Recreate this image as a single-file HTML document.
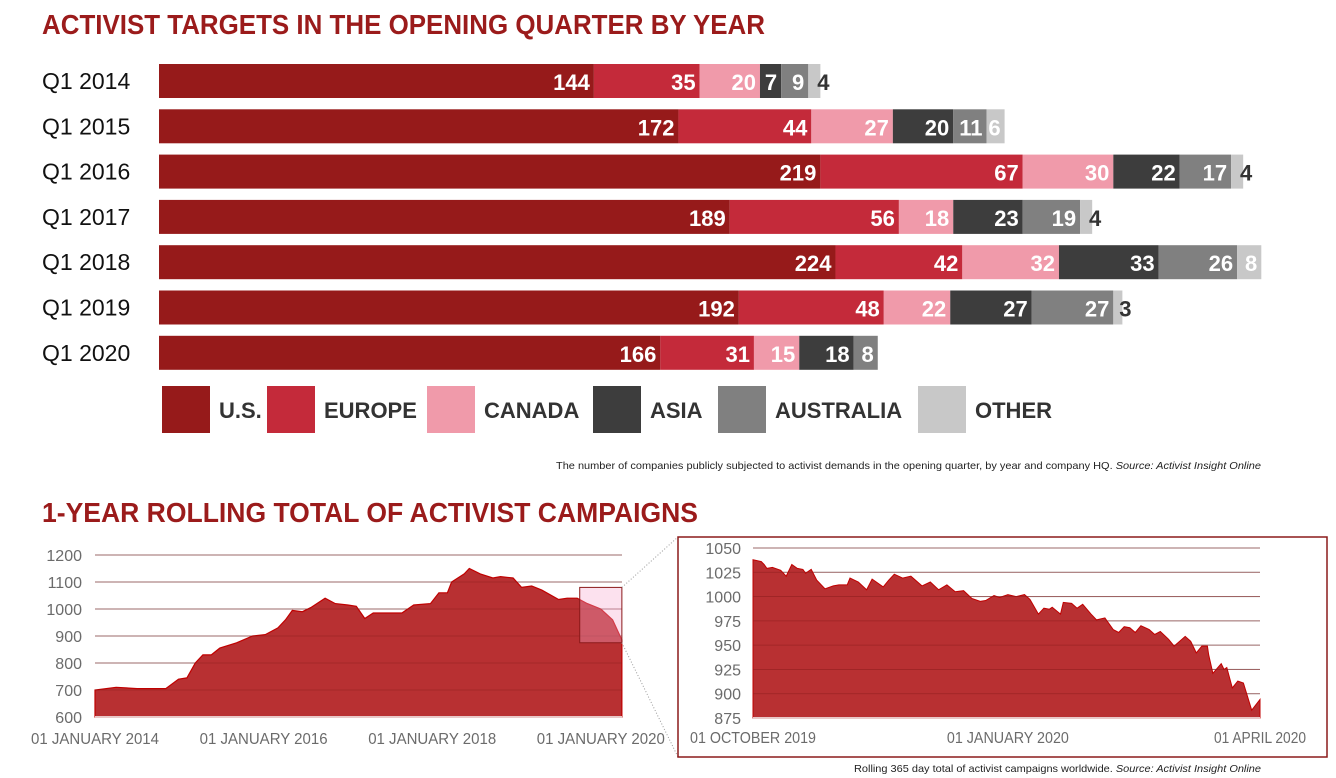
<!DOCTYPE html>
<html><head><meta charset="utf-8"><style>
html,body{margin:0;padding:0;background:#fff;}
svg{display:block;font-family:"Liberation Sans",sans-serif;}
</style></head><body>
<svg id="root" width="1336" height="778" viewBox="0 0 1336 778">
<text x="42" y="34" font-size="28" font-weight="bold" fill="#9b1b1b" textLength="723" lengthAdjust="spacingAndGlyphs">ACTIVIST TARGETS IN THE OPENING QUARTER BY YEAR</text>
<g id="bars"></g>
<g id="legend"></g>
<text x="556" y="469" font-size="10.5" fill="#222" textLength="705" lengthAdjust="spacingAndGlyphs">The number of companies publicly subjected to activist demands in the opening quarter, by year and company HQ. <tspan font-style="italic">Source: Activist Insight Online</tspan></text>
<text x="42" y="522" font-size="28" font-weight="bold" fill="#9b1b1b" textLength="656" lengthAdjust="spacingAndGlyphs">1-YEAR ROLLING TOTAL OF ACTIVIST CAMPAIGNS</text>
<g id="left"></g>
<rect x="678" y="537" width="649" height="220" fill="none" stroke="#8b1a1a" stroke-width="1.5"/>
<g id="inset"></g>
<text x="854" y="772" font-size="10.5" fill="#222" textLength="407" lengthAdjust="spacingAndGlyphs">Rolling 365 day total of activist campaigns worldwide. <tspan font-style="italic">Source: Activist Insight Online</tspan></text>
</svg>
<script>
const NS="http://www.w3.org/2000/svg";
const years=["Q1 2014","Q1 2015","Q1 2016","Q1 2017","Q1 2018","Q1 2019","Q1 2020"];
const regions=["U.S.","EUROPE","CANADA","ASIA","AUSTRALIA","OTHER"];
const usVals=[144,172,219,189,224,192,166];
const europeVals=[35,44,67,56,42,48,31];
const canadaVals=[20,27,30,18,32,22,15];
const asiaVals=[7,20,22,23,33,27,18];
const australiaVals=[9,11,17,19,26,27,8];
const otherVals=[4,6,4,4,8,3,0];
const leftDates=[2014.0,2014.25,2014.5,2014.75,2014.84,2014.99,2015.09,2015.19,2015.28,2015.38,2015.48,2015.68,2015.87,2016.02,2016.17,2016.26,2016.34,2016.46,2016.56,2016.73,2016.85,2017.0,2017.1,2017.2,2017.3,2017.44,2017.64,2017.78,2017.98,2018.08,2018.18,2018.23,2018.38,2018.44,2018.57,2018.72,2018.81,2018.96,2019.06,2019.18,2019.3,2019.5,2019.6,2019.72,2019.84,2020.0,2020.14,2020.25];
const leftVals=[700,710,705,705,705,740,745,800,830,830,855,875,900,905,930,960,995,990,1005,1040,1020,1015,1010,965,985,985,985,1015,1020,1060,1060,1100,1130,1150,1130,1115,1120,1115,1080,1085,1070,1035,1040,1040,1020,1000,960,885];
const leftTicks=[600,700,800,900,1000,1100,1200];
const leftXLabels=["01 JANUARY 2014","01 JANUARY 2016","01 JANUARY 2018","01 JANUARY 2020"];
const leftXYears=[2014,2016,2018,2020];
const insetDays=[0,3,4,5,7,10,12,14,16,18,19,21,23,26,29,31,34,35,38,41,43,47,49,51,54,57,61,64,67,70,73,76,79,82,84,87,89,92,95,98,100,103,105,107,108,111,112,115,117,119,122,124,127,130,132,134,136,138,140,143,145,147,150,152,154,156,158,160,162,164,164.5,166,169,170,171,173,175,177,180,183];
const insetVals=[1038,1036,1033,1029,1030,1027,1021,1033,1029,1028,1024,1028,1017,1008,1011,1012,1012,1019,1015,1007,1018,1010,1017,1023,1019,1021,1011,1015,1007,1012,1005,1006,998,995,996,1001,999,1002,1000,1002,997,982,988,987,989,982,994,993,988,992,982,976,978,966,963,969,968,963,970,966,961,964,956,949,954,959,954,942,949,949,940,921,931,925,927,906,913,911,883,894];
const insetTicks=[875,900,925,950,975,1000,1025,1050];
const insetXLabels=["01 OCTOBER 2019","01 JANUARY 2020","01 APRIL 2020"];
const insetXDays=[0,92,183];

function el(tag,attrs,parent){const e=document.createElementNS(NS,tag);for(const k in attrs)e.setAttribute(k,attrs[k]);parent.appendChild(e);return e;}
const colors=["#961a1a","#c42a3a","#f09aaa","#3d3d3d","#808080","#c8c8c8"];
const series=[usVals,europeVals,canadaVals,asiaVals,australiaVals,otherVals];
const bx=v=>159+v*3.02;
const rowY=i=>64+i*45.3;
const bars=document.getElementById('bars');
years.forEach((yr,i)=>{
  const t=el('text',{x:42,y:rowY(i)+25,'font-size':23,fill:'#111'},bars);t.textContent=yr;
  
  
  let cum=0;
  series.forEach((s,j)=>{
    const v=s[i]; if(!v) return;
    const r=el('rect',{x:bx(cum),y:rowY(i),width:v*3.02,height:34,fill:colors[j]},bars);
    
    
    cum+=v;
    const dark = (j===5 && v<=4);
    const lt=el('text',{x:dark?bx(cum)+3:bx(cum)-4,y:rowY(i)+26,'font-size':22,'font-weight':'bold',fill:dark?'#333':'#fff','text-anchor':dark?'middle':'end'},bars);
    lt.textContent=v;
    
    
  });
});
const legend=document.getElementById('legend');
const lx=[162,267,427,593,718,918];
regions.forEach((r,j)=>{
  const sq=el('rect',{x:lx[j],y:386,width:48,height:47,fill:colors[j]},legend);
  
  
  const t=el('text',{x:lx[j]+57,y:418,'font-size':22,'font-weight':'bold',fill:'#333'},legend);
  t.textContent=r;
  
  
});
const L=document.getElementById('left');
const lxs=d=>95+(d-2014)*84.3;
const lys=v=>717-(v-600)*0.27;
leftTicks.forEach(v=>{
  if(v>600){const g=el('line',{x1:95,x2:622,y1:lys(v),y2:lys(v),stroke:'#aaa','stroke-width':1},L);}
  const t=el('text',{x:82,y:lys(v)+6,'font-size':16,fill:'#6b6b6b','text-anchor':'end'},L);t.textContent=v;
  
});
let d='M'+lxs(leftDates[0])+','+lys(600);
leftDates.forEach((x,i)=>{d+=' L'+lxs(x).toFixed(1)+','+lys(leftVals[i]).toFixed(1);});
d+=' L'+lxs(leftDates[leftDates.length-1])+','+lys(600)+'Z';
const la=el('path',{d:d,fill:'#b83032',stroke:'#c00000','stroke-width':1.2},L);

leftTicks.slice(1).forEach(v=>{el('line',{x1:95,x2:622,y1:lys(v),y2:lys(v),stroke:'#8a1c1c','stroke-width':0.8,opacity:0.6},L);});
el('line',{x1:95,x2:622,y1:717,y2:717,stroke:'#e8c8c8','stroke-width':2},L);
leftXYears.forEach((y,i)=>{
  const t=el('text',{x:lxs(y),y:744,'font-size':15.5,fill:'#6b6b6b','text-anchor':'middle',textLength:128,lengthAdjust:'spacingAndGlyphs'},L);t.textContent=leftXLabels[i];
  
});
const hb=el('rect',{x:lxs(2019.75),y:lys(1080),width:lxs(2020.25)-lxs(2019.75),height:lys(875)-lys(1080),fill:'rgba(245,170,205,0.35)',stroke:'#8b1a1a','stroke-width':1},L);

el('line',{x1:lxs(2020.25),y1:lys(1080),x2:678,y2:537,stroke:'#999','stroke-dasharray':'1,2'},L);
el('line',{x1:lxs(2020.25),y1:lys(875),x2:678,y2:757,stroke:'#999','stroke-dasharray':'1,2'},L);
const I=document.getElementById('inset');
const ix=dd=>753+dd*(507/183);
const iy=v=>718-(v-875)*(170/175);
insetTicks.forEach(v=>{
  if(v>875){const g=el('line',{x1:753,x2:1260,y1:iy(v),y2:iy(v),stroke:'#aaa','stroke-width':1},I);}
  const t=el('text',{x:741,y:iy(v)+6,'font-size':16,fill:'#6b6b6b','text-anchor':'end'},I);t.textContent=v;
  
});
let d2='M'+ix(0)+','+iy(875);
insetDays.forEach((x,i)=>{d2+=' L'+ix(x).toFixed(1)+','+iy(insetVals[i]).toFixed(1);});
d2+=' L'+ix(insetDays[insetDays.length-1])+','+iy(875)+'Z';
const ia=el('path',{d:d2,fill:'#b83032',stroke:'#c00000','stroke-width':1},I);

insetTicks.slice(1).forEach(v=>{el('line',{x1:753,x2:1260,y1:iy(v),y2:iy(v),stroke:'#8a1c1c','stroke-width':0.8,opacity:0.6},I);});
el('line',{x1:753,x2:1260,y1:718,y2:718,stroke:'#e8c8c8','stroke-width':2},I);
const insetW=[126,122,92];
insetXDays.forEach((dd,i)=>{
  const t=el('text',{x:ix(dd),y:743,'font-size':15.5,fill:'#6b6b6b','text-anchor':'middle',textLength:insetW[i],lengthAdjust:'spacingAndGlyphs'},I);t.textContent=insetXLabels[i];
  
});
</script>
</body></html>
